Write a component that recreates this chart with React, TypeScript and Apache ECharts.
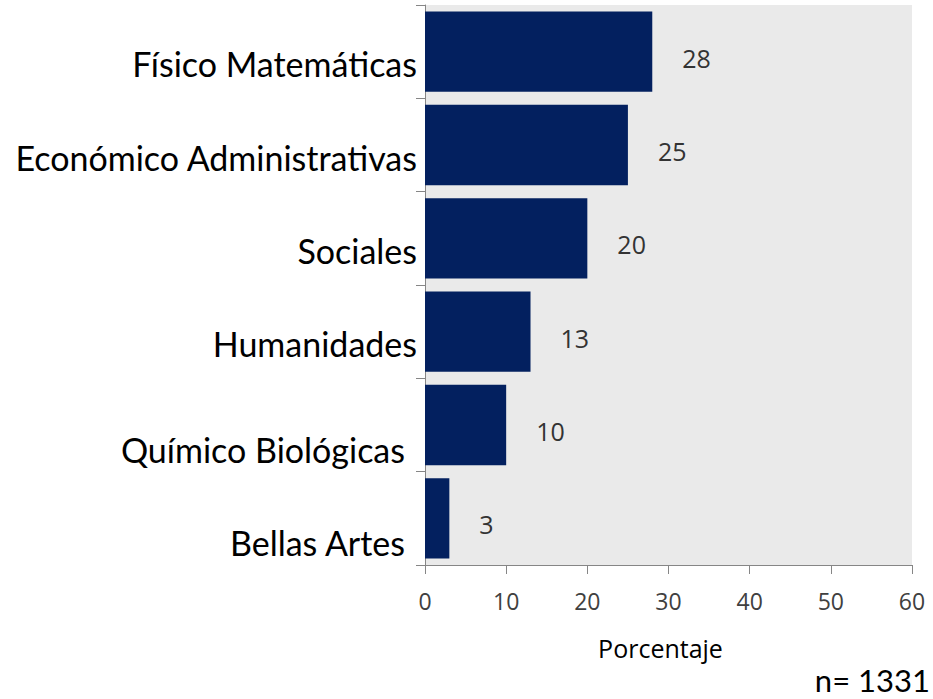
import React, { useEffect, useRef } from "react";
import * as echarts from "echarts";

const categories = [
  "Bellas Artes",
  "Químico Biológicas",
  "Humanidades",
  "Sociales",
  "Económico Administrativas",
  "Físico Matemáticas",
];
const values = [3, 10, 13, 20, 25, 28];
const paddedLabels = ["Bellas Artes", "Químico Biológicas"];
const axisTitle = "Porcentaje";
const noteText = "n= 1331";

export default function App() {
  const ref = useRef<HTMLDivElement>(null);
  useEffect(() => {
    document.body.style.margin = "0";
    const chart = echarts.init(ref.current!, null, { renderer: "svg" });
    chart.setOption({
      animation: false,
      backgroundColor: "#ffffff",
      grid: {
        left: 425,
        right: 21,
        top: 5,
        bottom: 134,
        show: true,
        backgroundColor: "#eaeaea",
        borderWidth: 0,
      },
      xAxis: {
        type: "value",
        min: 0,
        max: 60,
        interval: 10,
        splitLine: { show: false },
        axisLine: { show: true, lineStyle: { color: "#868686", width: 1 } },
        axisTick: { show: true, length: 9, lineStyle: { color: "#868686" } },
        axisLabel: {
          color: "#404040",
          fontSize: 23,
          fontFamily: "Open Sans",
          margin: 24,
        },
        name: axisTitle,
        nameLocation: "middle",
        nameGap: 70,
        nameTextStyle: {
          color: "#000000",
          fontSize: 25,
          fontFamily: "Open Sans",
          padding: [0, 16, 0, 0],
        },
      },
      yAxis: {
        type: "category",
        data: categories,
        axisLine: { show: true, lineStyle: { color: "#868686", width: 1 } },
        axisTick: { show: true, length: 9, lineStyle: { color: "#868686" } },
        axisLabel: {
          color: "#000000",
          fontSize: 34,
          fontFamily: "Lato",
          margin: 8,
          padding: [24, 0, 0, 0],
          formatter: (v: string) => (paddedLabels.includes(v) ? `{p|${v}}` : v),
          rich: {
            p: {
              fontSize: 34,
              fontFamily: "Lato",
              color: "#000000",
              padding: [24, 12, 0, 0],
            },
          },
        },
      },
      series: [
        {
          type: "bar",
          data: values,
          barCategoryGap: "14%",
          itemStyle: { color: "#03205f" },
          label: {
            show: true,
            position: "right",
            distance: 30,
            offset: [0, 6],
            color: "#333333",
            fontSize: 25,
            fontFamily: "Open Sans",
          },
        },
      ],
      graphic: [
        {
          type: "text",
          right: 3,
          top: 664,
          style: {
            text: noteText,
            fontSize: 31,
            fontFamily: "Lato",
            fill: "#000000",
          },
        },
      ],
    });
    return () => chart.dispose();
  }, []);
  return <div ref={ref} style={{ width: 933, height: 699 }} />;
}
